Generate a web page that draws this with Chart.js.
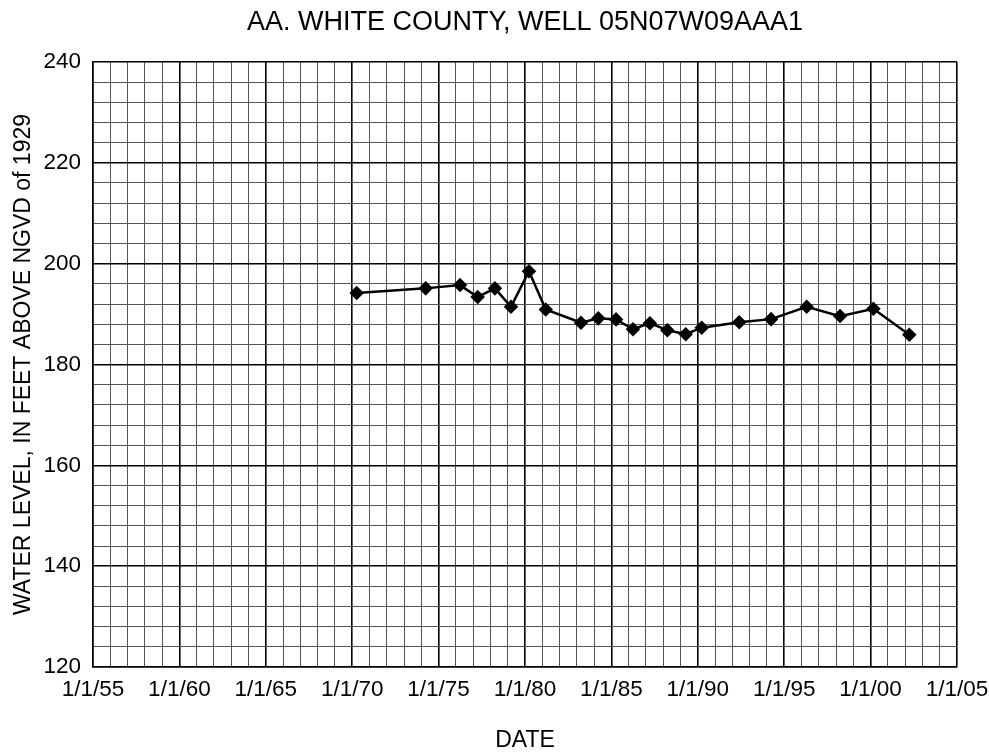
<!DOCTYPE html>
<html>
<head>
<meta charset="utf-8">
<script src="https://cdn.jsdelivr.net/npm/chart.js@4"></script>
<style>
  html, body { margin: 0; padding: 0; background: #fff; }
  #wrap { width: 989px; height: 755px; }
</style>
</head>
<body>
<div id="wrap"><canvas id="wellChart" width="989" height="755"></canvas></div>
<script>
// measurement dates as decimal years
var dates = [1970.26, 1974.25, 1976.24, 1977.26, 1978.26, 1979.19, 1980.23, 1981.2,
    1983.24, 1984.24, 1985.27, 1986.25, 1987.23, 1988.24, 1989.3, 1990.23,
    1992.4, 1994.24, 1996.3, 1998.23, 2000.16, 2002.24];
var levels = [194.2, 195.1, 195.75, 193.4, 195.1, 191.45, 198.5, 190.9,
    188.3, 189.15, 188.95, 187.0, 188.2, 186.8, 186.0, 187.3,
    188.4, 189.0, 191.45, 189.6, 191.05, 185.9];
var xTickYears = [1955, 1960, 1965, 1970, 1975, 1980, 1985, 1990, 1995, 2000, 2005];
var yTickLabels = [120, 140, 160, 180, 200, 220, 240];

var punti = dates.map(function (d, i) { return { x: d, y: levels[i] }; });

var font = "'Liberation Sans', Arial, sans-serif";

var ctx = document.getElementById('wellChart').getContext('2d');
var chart = new Chart(ctx, {
    type: 'line',
    data: {
        datasets: [{
            label: 'Water level',
            data: punti,
            borderColor: '#000',
            backgroundColor: '#000',
            borderWidth: 2.5,
            pointStyle: 'rectRot',
            pointRadius: 5.5,
            pointHoverRadius: 5.5,
            tension: 0
        }]
    },
    options: {
        responsive: false,
        animation: false,
        layout: { padding: { left: 0, right: 32, top: 0, bottom: 1 } },
        plugins: {
            legend: { display: false },
            tooltip: { enabled: false },
            title: {
                display: true,
                fullSize: false, // centrato sull'area del grafico
                text: 'AA. WHITE COUNTY, WELL 05N07W09AAA1',
                color: '#000',
                font: { family: font, size: 27, weight: 'normal' },
                padding: { top: 6, bottom: 23.6 }
            }
        },
        scales: {
            x: {
                type: 'linear',
                min: 1955,
                max: 2005,
                afterFit: function (scale) {
                    scale.height = 87;
                    scale.paddingRight = 0;
                },
                border: { color: '#000', width: 1.5 },
                grid: {
                    drawTicks: false,
                    color: function (c) { return c.tick && c.tick.value % 5 === 0 ? '#000' : '#555'; },
                    lineWidth: function (c) { return c.tick && c.tick.value % 5 === 0 ? 1.6 : 1; }
                },
                ticks: {
                    stepSize: 1,
                    autoSkip: false,
                    maxRotation: 0,
                    padding: 9,
                    color: '#000',
                    font: { family: font, size: 22.5 },
                    callback: function (v) {
                        if (xTickYears.indexOf(v) < 0) return '';
                        return '1/1/' + String(v % 100).padStart(2, '0');
                    }
                },
                title: {
                    display: true,
                    text: 'DATE',
                    color: '#000',
                    font: { family: font, size: 23 },
                    padding: { top: 23.4, bottom: 0 }
                }
            },
            y: {
                min: 120,
                max: 240,
                afterFit: function (scale) {
                    scale.width = 93;
                },
                border: { color: '#000', width: 1.5 },
                grid: {
                    drawTicks: false,
                    color: function (c) { return c.tick && c.tick.value % 20 === 0 ? '#000' : '#555'; },
                    lineWidth: function (c) { return c.tick && c.tick.value % 20 === 0 ? 1.6 : 1; }
                },
                ticks: {
                    stepSize: 4,
                    autoSkip: false,
                    padding: 12,
                    color: '#000',
                    font: { family: font, size: 22.5 },
                    callback: function (v) {
                        return yTickLabels.indexOf(v) >= 0 ? String(v) : '';
                    }
                },
                title: {
                    display: true,
                    text: 'WATER LEVEL, IN FEET ABOVE NGVD of 1929',
                    color: '#000',
                    font: { family: font, size: 23 },
                    padding: { top: 10, bottom: 6 }
                }
            }
        }
    }
});
</script>
</body>
</html>
